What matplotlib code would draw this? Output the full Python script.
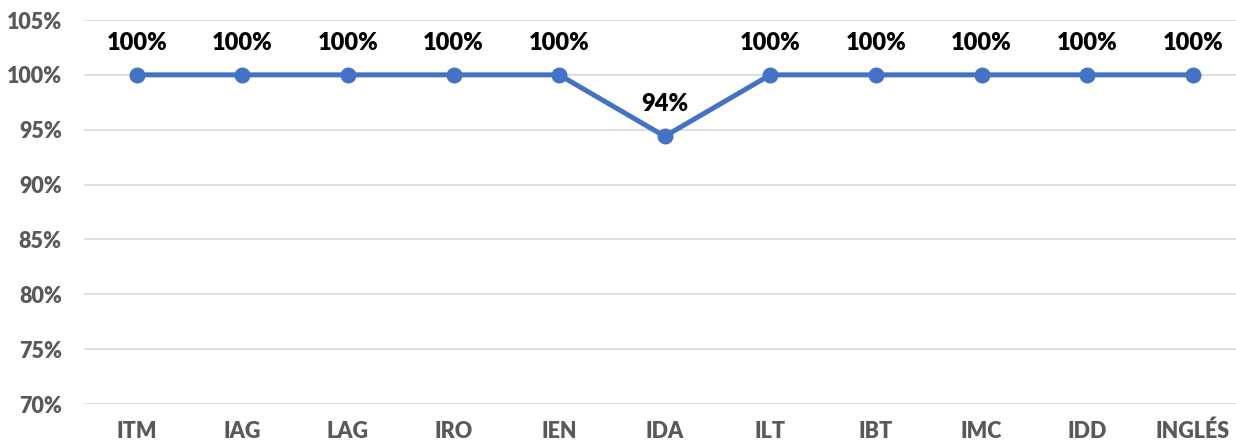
import matplotlib
matplotlib.use("Agg")
import matplotlib.pyplot as plt
from matplotlib.ticker import FuncFormatter

plt.rcParams['font.family'] = ['Lato', 'DejaVu Sans']

# datos
carreras = ["ITM", "IAG", "LAG", "IRO", "IEN", "IDA", "ILT", "IBT", "IMC", "IDD", "INGLÉS"]
porcentaje = [1.00, 1.00, 1.00, 1.00, 1.00, 0.944, 1.00, 1.00, 1.00, 1.00, 1.00]
yticks = [0.70, 0.75, 0.80, 0.85, 0.90, 0.95, 1.00, 1.05]

azul = "#4472C4"
gris = "#595959"

fig = plt.figure(figsize=(12.36, 4.44), dpi=100)
ax = fig.add_axes([84/1236, 1 - 404/444, 1 - 84/1236, 384/444])

x = list(range(len(carreras)))
ax.plot(x, porcentaje, color=azul, lw=3.6, marker="o", ms=10.5, zorder=3)

for xi, v in zip(x, porcentaje):
    ax.annotate(f"{round(v*100):.0f}%", (xi, v), xytext=(0, 23), textcoords="offset points",
                ha="center", va="center", fontsize=17, fontweight="heavy", color="black")

ax.set_ylim(0.70, 1.05)
ax.set_xlim(-0.5, 10.41)
ax.set_yticks(yticks)
ax.yaxis.set_major_formatter(FuncFormatter(lambda v, p: f"{round(v*100)}%"))
ax.set_xticks(x)
ax.set_xticklabels(carreras)
ax.grid(axis="y", color="#D9D9D9", lw=1.2)
ax.set_axisbelow(True)
for s in ax.spines.values():
    s.set_visible(False)
ax.tick_params(length=0)
ax.tick_params(axis="y", pad=16)
ax.tick_params(axis="x", pad=12)
for lab in ax.get_xticklabels() + ax.get_yticklabels():
    lab.set_fontsize(15.5)
    lab.set_fontweight("heavy")
    lab.set_color(gris)

fig.savefig("out.png", dpi=100)
